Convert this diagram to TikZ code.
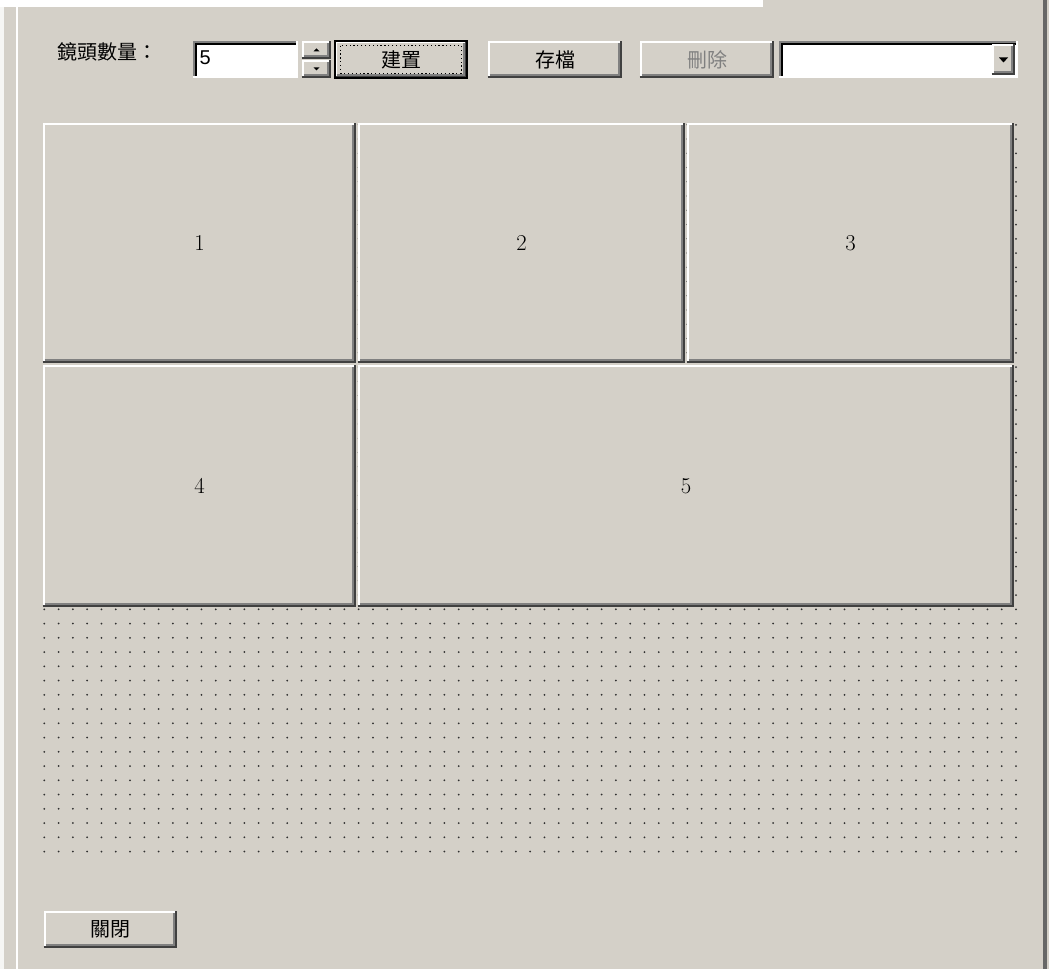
\documentclass[tikz,border=0pt]{standalone}
\usepackage{fontspec}
\usepackage{tikz}
\newfontfamily\cjk{Noto Sans CJK TC}
\newfontfamily\ui{Liberation Sans}
\definecolor{winbg}{HTML}{D4D0C8}
\definecolor{edgedark}{HTML}{404040}
\definecolor{edgemid}{HTML}{808080}
\definecolor{dotcol}{HTML}{303030}

% 3d borders round a named node
\newcommand{\raised}[1]{%
  \draw[white, line width=1.5pt] ([xshift=.75pt,yshift=.75pt]#1.south west) |- ([xshift=-.75pt,yshift=-.75pt]#1.north east);
  \draw[edgedark, line width=1.5pt] ([yshift=.75pt]#1.south west) -| ([xshift=-.75pt]#1.north east);
  \draw[edgemid, line width=1.5pt] ([xshift=1.5pt,yshift=2.25pt]#1.south west) -| ([xshift=-2.25pt,yshift=-1.5pt]#1.north east);}
\newcommand{\sunken}[1]{%
  \draw[edgemid, line width=1.5pt] ([xshift=.75pt]#1.south west) |- ([yshift=-.75pt]#1.north east);
  \draw[black, line width=1.5pt] ([xshift=2.25pt,yshift=1.5pt]#1.south west) |- ([xshift=-1.5pt,yshift=-2.25pt]#1.north east);
  \draw[white, line width=1.5pt] ([yshift=.75pt]#1.south west) -| ([xshift=-.75pt]#1.north east);}

\begin{document}
\begin{tikzpicture}[x=0.75pt,y=-0.75pt,
    box/.style 2 args={inner sep=0pt, minimum width=#1*0.75pt, minimum height=#2*0.75pt},
    btn/.style={fill=winbg, font=\cjk\fontsize{15}{15}\selectfont},
    field/.style={fill=white},
    cam/.style={fill=winbg, font=\fontsize{17}{17}\selectfont}]
\useasboundingbox (0,0) rectangle (1049,969);
\fill[winbg] (0,0) rectangle (1049,969);
\fill[white] (0,0) rectangle (763,7);
\fill[white!80!winbg] (0,7) rectangle (4,969);
\fill[white] (15.5,7) rectangle (17.5,969);
\fill[edgemid!80!black] (1043,0) rectangle (1046.5,969);

% grid of the form
\foreach \i in {0,...,68}
  \foreach \j in {-34,...,17}
    \fill[dotcol] (44.3+14.29*\i, 609.3+14.25*\j) circle (0.75pt);

% top row
\node[anchor=base west, font=\cjk\fontsize{15}{15}\selectfont] (countlbl) at (53,60) {鏡頭數量：};
\node[field, box={105}{37}] (countbox) at (245.5,59.5) {};
\sunken{countbox}
\node[anchor=north west, font=\ui\fontsize{15}{15}\selectfont] (countval) at (195,46) {5};
\node[btn, box={29}{18}] (spinup) at (316.5,50) {};
\node[btn, box={29}{18}] (spindn) at (316.5,69) {};
\raised{spinup} \raised{spindn}
\fill ([shift={(-3,1.5)}]spinup.center) -- ([shift={(3,1.5)}]spinup.center) -- ([shift={(0,-1.5)}]spinup.center) -- cycle;
\fill ([shift={(-3,-1.5)}]spindn.center) -- ([shift={(3,-1.5)}]spindn.center) -- ([shift={(0,1.5)}]spindn.center) -- cycle;
\node[btn, box={132}{37}] (buildbtn) at (401,59.5) {建置};
\raised{buildbtn}
\draw[black, line width=1.2pt] (buildbtn.north west) rectangle (buildbtn.south east);
\draw[black, dotted, line width=0.9pt] ([shift={(6,5)}]buildbtn.north west) rectangle ([shift={(-6,-5)}]buildbtn.south east);
\node[btn, box={134}{37}] (savebtn) at (555,59.5) {存檔};
\raised{savebtn}
\node[btn, box={134}{37}, text=edgemid] (delbtn) at (707,59.5) {刪除};
\raised{delbtn}
\node[field, box={239}{37}] (combo) at (898.5,59.5) {};
\sunken{combo}
\node[btn, box={23}{31}] (combobtn) at (1003.5,59.5) {};
\raised{combobtn}
\fill ([shift={(-4.5,-2)}]combobtn.center) -- ([shift={(4.5,-2)}]combobtn.center) -- ([shift={(0,3)}]combobtn.center) -- cycle;

% camera panels
\node[cam, box={313}{240}] (cam1) at (199.5,243) {1};
\node[cam, box={327}{240}] (cam2) at (521.5,243) {2};
\node[cam, box={327}{240}] (cam3) at (850.5,243) {3};
\node[cam, box={313}{242}] (cam4) at (199.5,486) {4};
\node[cam, box={656}{242}] (cam5) at (686,486) {5};
\foreach \n in {cam1,cam2,cam3,cam4,cam5}
  {\raised{\n}}

% bottom
\node[btn, box={133}{37}] (closebtn) at (110.5,929.5) {關閉};
\raised{closebtn}
\end{tikzpicture}
\end{document}
